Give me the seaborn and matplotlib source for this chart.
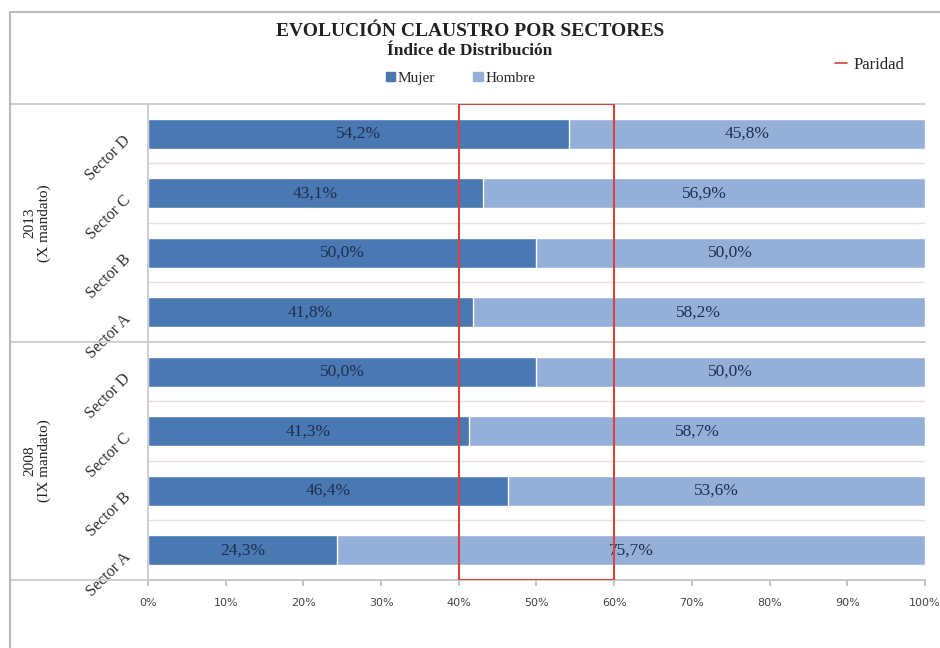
import numpy as np
import pandas as pd
import seaborn as sns
import matplotlib.pyplot as plt
import matplotlib.transforms as mtransforms
from matplotlib.lines import Line2D
from matplotlib.patches import Rectangle, Patch

sns.set_theme(style="white")
plt.rcParams['font.family'] = ['Liberation Serif', 'DejaVu Serif']

# data (top to bottom)
periods = ['2013\n(X mandato)', '2008\n(IX mandato)']
sectors = ['Sector D', 'Sector C', 'Sector B', 'Sector A']
mujer_2013 = [54.2, 43.1, 50.0, 41.8]
mujer_2008 = [50.0, 41.3, 46.4, 24.3]
paridad = [40, 60]

rows = [f'{p}|{s}' for p in periods for s in sectors]
mujer = mujer_2013 + mujer_2008
hombre = [round(100 - m, 1) for m in mujer]
df = pd.DataFrame({'fila': rows, 'Mujer': mujer, 'Hombre': hombre})
df['total'] = 100.0

c_mujer = '#4a78b3'
c_hombre = '#95b0d8'
txt = '#1f2f4f'

fig = plt.figure(figsize=(9.4, 6.48), dpi=100)
ax = fig.add_axes([0.1574, 0.105, 0.8266, 0.7345])

sns.barplot(data=df, y='fila', x='total', color=c_hombre, width=0.5,
            orient='h', ax=ax, saturation=1)
sns.barplot(data=df, y='fila', x='Mujer', color=c_mujer, width=0.5,
            orient='h', ax=ax, saturation=1)

for i, (m, h) in enumerate(zip(mujer, hombre)):
    ax.text(m / 2, i, f'{m:.1f}%'.replace('.', ','), ha='center', va='center',
            fontsize=12.5, color=txt)
    ax.text(m + h / 2, i, f'{h:.1f}%'.replace('.', ','), ha='center', va='center',
            fontsize=12.5, color=txt)

ax.set_xlim(0, 100)
ax.set_ylim(len(rows) - 0.5, -0.5)
ax.set_xticks(np.arange(0, 101, 10))
ax.set_xticklabels([f'{v}%' for v in range(0, 101, 10)], fontsize=8, color='#444444',
                   family=['DejaVu Sans'])
ax.tick_params(axis='x', length=4, color='#bbbbbb', pad=9, bottom=True)
ax.set_yticks(range(len(rows)))
ax.set_yticklabels(sectors * 2, rotation=45, ha='right', rotation_mode='anchor',
                   fontsize=11.5, color='#333333')
ax.tick_params(axis='y', length=0, pad=0)
shift = mtransforms.ScaledTranslation(-21 / 100, -3 / 100, fig.dpi_scale_trans)
for lab in ax.get_yticklabels():
    lab.set_transform(lab.get_transform() + shift)
ax.set_xlabel('')
ax.set_ylabel('')

# faint row separators
for b in np.arange(0.5, len(rows) - 0.5, 1):
    if b != 3.5:
        ax.axhline(b, color='#eadede', lw=1, zorder=0)

for sp in ['top', 'right']:
    ax.spines[sp].set_visible(False)
for sp in ['left', 'bottom']:
    ax.spines[sp].set_color('#c8c8c8')

# group separators extending into left margin
for y in [-0.5, 3.5, 7.5]:
    ax.add_line(Line2D([-0.178, 1.0], [1 - (y + 0.5) / 8] * 2, transform=ax.transAxes,
                       color='#c8c8c8', lw=1.2, clip_on=False))

for k, p in enumerate(periods):
    ax.text(-0.143, 1 - (k * 4 + 2) / 8, p, transform=ax.transAxes, rotation=90,
            ha='center', va='center', fontsize=11, color='#222222', linespacing=1.1)

# paridad box
ax.add_patch(Rectangle((paridad[0], -0.5), paridad[1] - paridad[0], len(rows),
                       fill=False, edgecolor='#d9423f', lw=1.5, zorder=5))

# titles and legends
fig.text(0.5, 0.951, 'EVOLUCIÓN CLAUSTRO POR SECTORES', ha='center', va='center',
         fontsize=14, fontweight='bold', color='#222222')
fig.text(0.5, 0.921, 'Índice de Distribución', ha='center', va='center',
         fontsize=12.5, fontweight='bold', color='#222222')
fig.legend(handles=[Patch(color=c_mujer, label='Mujer'), Patch(color=c_hombre, label='Hombre')],
           loc='center', bbox_to_anchor=(0.49, 0.879), ncol=2, frameon=False,
           fontsize=11, handlelength=0.6, handleheight=0.6, handletextpad=0.2,
           columnspacing=2.5)
fig.legend(handles=[Line2D([], [], color='#d9423f', lw=1.2, label='Paridad')],
           loc='center', bbox_to_anchor=(0.925, 0.9), frameon=False, fontsize=12,
           handlelength=0.7, handletextpad=0.4)

# figure frame
fig.add_artist(Line2D([0.0106, 0.0106], [0, 0.981], transform=fig.transFigure,
                      color='#bbbbbb', lw=1.5))
fig.add_artist(Line2D([0.0106, 1.0], [0.981, 0.981], transform=fig.transFigure,
                      color='#bbbbbb', lw=1.5))

fig.savefig('out.png', dpi=100)
